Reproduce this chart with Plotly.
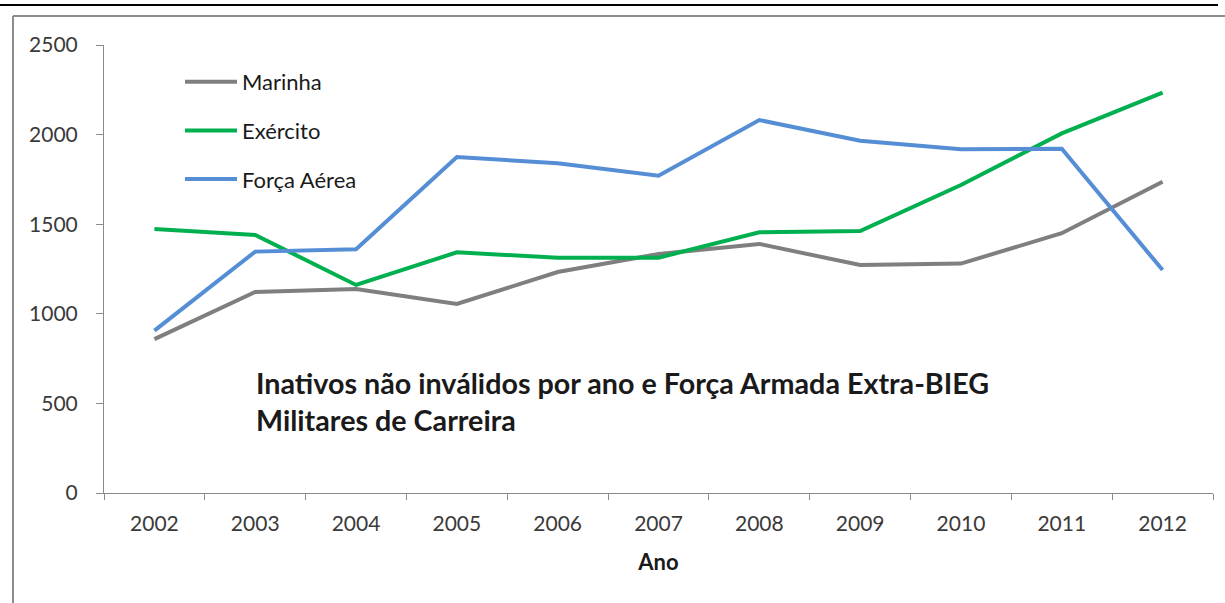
import plotly.graph_objects as go

anos = ["2002", "2003", "2004", "2005", "2006", "2007", "2008", "2009", "2010", "2011", "2012"]
marinha = [859, 1122, 1138, 1055, 1233, 1334, 1390, 1272, 1280, 1450, 1737]
exercito = [1473, 1440, 1161, 1343, 1313, 1313, 1455, 1462, 1719, 2007, 2234]
forca_aerea = [906, 1347, 1360, 1875, 1840, 1771, 2081, 1966, 1918, 1921, 1244]

series = [
    ("Marinha", marinha, "#7f7f7f"),
    ("Exército", exercito, "#00b050"),
    ("Força Aérea", forca_aerea, "#558ed5"),
]

FONT = "Lato"
fig = go.Figure()
for name, vals, color in series:
    fig.add_trace(go.Scatter(
        x=anos, y=vals, name=name, mode="lines", legendgroup=name,
        line=dict(color=color, width=4),
    ))

# pixel -> paper helpers
L, R, T, B = 104, 1213, 45, 493
def px(x):
    return (x - L) / (R - L)
def py(y):
    return (B - y) / (B - T)

fig.update_layout(
    width=1225, height=603,
    margin=dict(l=L, r=1225 - R, t=T, b=603 - B),
    paper_bgcolor="white", plot_bgcolor="white",
    font=dict(family=FONT, size=21, color="#3a3a3a"),
    showlegend=True,
    legend=dict(
        x=px(180), y=py(61), xanchor="left", yanchor="top",
        font=dict(family=FONT, size=22, color="#1a1a1a"),
        bgcolor="rgba(0,0,0,0)", tracegroupgap=17, itemwidth=52,
    ),
    xaxis=dict(
        type="category", range=[-0.5, 10.5],
        showline=True, linecolor="#8a8a8a", linewidth=1,
        ticks="outside", tickson="boundaries", ticklen=6, tickcolor="#8a8a8a",
        showgrid=False, zeroline=False,
        tickfont=dict(family=FONT, size=21, color="#3a3a3a"),
        ticklabelstandoff=12,
        title=dict(text="<b>Ano</b>", font=dict(family=FONT, size=22, color="#1a1a1a"), standoff=20),
    ),
    yaxis=dict(
        range=[0, 2500], tickvals=[0, 500, 1000, 1500, 2000, 2500],
        showline=True, linecolor="#8a8a8a", linewidth=1,
        ticks="outside", ticklen=7, tickcolor="#8a8a8a",
        showgrid=False, zeroline=False,
        tickfont=dict(family=FONT, size=21, color="#3a3a3a"),
        ticklabelstandoff=14,
    ),
    annotations=[dict(
        text="<b>Inativos não inválidos por ano e Força Armada Extra-BIEG<br>Militares de Carreira</b>",
        xref="paper", yref="paper", x=px(254), y=py(401),
        xanchor="left", yanchor="middle", align="left", showarrow=False,
        font=dict(family=FONT, size=28.7, color="#1a1a1a"),
    )],
    shapes=[
        dict(type="line", xref="paper", yref="paper", x0=px(0), x1=px(1218), y0=py(5), y1=py(5),
             line=dict(color="black", width=2)),
        dict(type="line", xref="paper", yref="paper", x0=px(13), x1=px(1225), y0=py(16), y1=py(16),
             line=dict(color="#8c8c8c", width=2)),
        dict(type="line", xref="paper", yref="paper", x0=px(13), x1=px(13), y0=py(16), y1=py(603),
             line=dict(color="#8c8c8c", width=2)),
    ],
)

fig.write_html("out.html", config={"displayModeBar": False},
               post_script="document.body.style.margin='0';document.body.style.overflow='hidden';")
